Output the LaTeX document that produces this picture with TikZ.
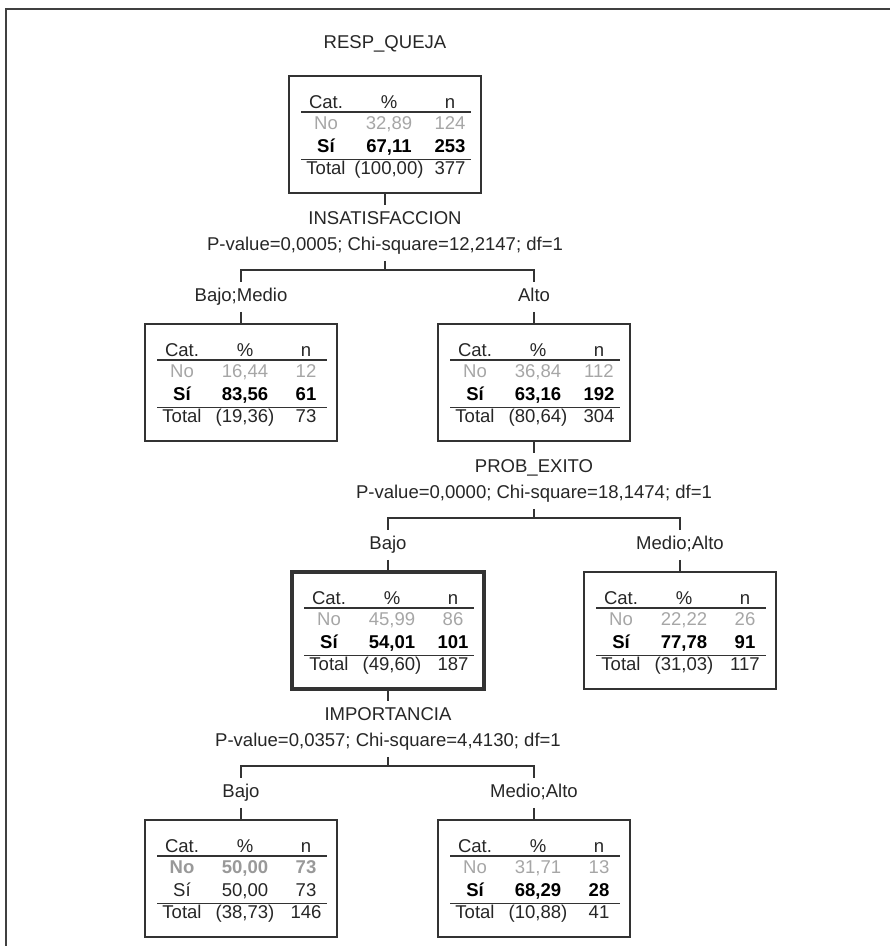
\documentclass[tikz,border=0pt]{standalone}
\usepackage{fontspec}
\setmainfont{Liberation Sans}
\usepackage{tikz}

\newcommand{\treefont}{\fontsize{13.9}{16.5}\selectfont}
\newcommand{\cattable}[9]{%
            \node[catbox] (#1) at (#2,#3) {};
            \node[cell] (#1-cat) at ({#2-59},{#3-26.5}) {Cat.};
            \node[cell] (#1-pct) at ({#2+4},{#3-26.5}) {\%};
            \node[cell] (#1-n) at ({#2+65},{#3-26.5}) {n};
            \draw[rule] ({#2-84},{#3-22.5}) -- ({#2+86},{#3-22.5});
            \node[cell, norow] (#1-no) at ({#2-59},{#3-5}) {No};
            \node[cell, norow] (#1-nop) at ({#2+4},{#3-5}) {#4};
            \node[cell, norow] (#1-non) at ({#2+65},{#3-5}) {#5};
            \node[cell, sirow] (#1-si) at ({#2-59},{#3+18}) {Sí};
            \node[cell, sirow] (#1-sip) at ({#2+4},{#3+18}) {#6};
            \node[cell, sirow] (#1-sin) at ({#2+65},{#3+18}) {#7};
            \draw[rule] ({#2-84},{#3+25}) -- ({#2+86},{#3+25});
            \node[cell] (#1-tot) at ({#2-59},{#3+39.5}) {Total};
            \node[cell] (#1-totp) at ({#2+4},{#3+39.5}) {#8};
            \node[cell] (#1-totn) at ({#2+65},{#3+39.5}) {#9};
}

\begin{document}
\begin{tikzpicture}[x=0.75pt, y=-0.75pt,
            every node/.style={font=\treefont, text=black!85},
            catbox/.style={draw=black!80, line width=1.1pt, minimum width=144pt, minimum height=87.75pt, inner sep=0pt},
            cell/.style={anchor=base, inner sep=0pt},
            norow/.style={text=black!35},
            sirow/.style={font=\treefont\bfseries, text=black},
            rule/.style={draw=black!80, line width=1pt},
            splitlab/.style={text height=10.1pt, text depth=3pt, inner xsep=2pt, inner ysep=4.5pt},
            link/.style={draw=black!80, line width=1pt},
            frame/.style={draw=black!75, line width=1.5pt}]
            \useasboundingbox (0,0) rectangle (890,946);
            \draw[frame] (6,946) -- (6,9) -- (890,9);

            \node[splitlab] (title) at (385,44) {RESP\_QUEJA};
            \cattable{n0}{385}{134.5}{32,89}{124}{67,11}{253}{(100,00)}{377}
            \node[splitlab] (n0-var) at (385,219.7) {INSATISFACCION};
            \node[splitlab] (n0-stat) at (385,245.75) {P-value=0,0005; Chi-square=12,2147; df=1};
            \coordinate (n0-bar) at (385,270);
            \node[splitlab] (n1-lab) at (241,296.75) {Bajo;Medio};
            \node[splitlab] (n2-lab) at (534,296.75) {Alto};
            \draw[link] (n0) -- (n0-var);
            \draw[link] (n0-stat) -- (n0-bar);
            \draw[link] (n1-lab) |- (n0-bar) -| (n2-lab);

            \cattable{n1}{241}{382.5}{16,44}{12}{83,56}{61}{(19,36)}{73}
            \cattable{n2}{534}{382.5}{36,84}{112}{63,16}{192}{(80,64)}{304}
            \draw[link] (n1-lab) -- (n1);
            \draw[link] (n2-lab) -- (n2);
            \node[splitlab] (n2-var) at (534,467.7) {PROB\_EXITO};
            \node[splitlab] (n2-stat) at (534,493.75) {P-value=0,0000; Chi-square=18,1474; df=1};
            \coordinate (n2-bar) at (534,518);
            \node[splitlab] (n3-lab) at (388,544.75) {Bajo};
            \node[splitlab] (n4-lab) at (680,544.75) {Medio;Alto};
            \draw[link] (n2) -- (n2-var);
            \draw[link] (n2-stat) -- (n2-bar);
            \draw[link] (n3-lab) |- (n2-bar) -| (n4-lab);

            \begin{scope}[catbox/.append style={line width=2.6pt}]
            \cattable{n3}{388}{630.5}{45,99}{86}{54,01}{101}{(49,60)}{187}
            \end{scope}
            \cattable{n4}{680}{630.5}{22,22}{26}{77,78}{91}{(31,03)}{117}
            \draw[link] (n3-lab) -- (n3);
            \draw[link] (n4-lab) -- (n4);
            \node[splitlab] (n3-var) at (388,715.7) {IMPORTANCIA};
            \node[splitlab] (n3-stat) at (388,741.75) {P-value=0,0357; Chi-square=4,4130; df=1};
            \coordinate (n3-bar) at (388,766);
            \node[splitlab] (n5-lab) at (241,792.75) {Bajo};
            \node[splitlab] (n6-lab) at (534,792.75) {Medio;Alto};
            \draw[link] (n3) -- (n3-var);
            \draw[link] (n3-stat) -- (n3-bar);
            \draw[link] (n5-lab) |- (n3-bar) -| (n6-lab);

            \begin{scope}[norow/.style={font=\treefont\bfseries, text=black!40}, sirow/.style={text=black!85}]
            \cattable{n5}{241}{878.5}{50,00}{73}{50,00}{73}{(38,73)}{146}
            \end{scope}
            \cattable{n6}{534}{878.5}{31,71}{13}{68,29}{28}{(10,88)}{41}
            \draw[link] (n5-lab) -- (n5);
            \draw[link] (n6-lab) -- (n6);
\end{tikzpicture}
\end{document}
